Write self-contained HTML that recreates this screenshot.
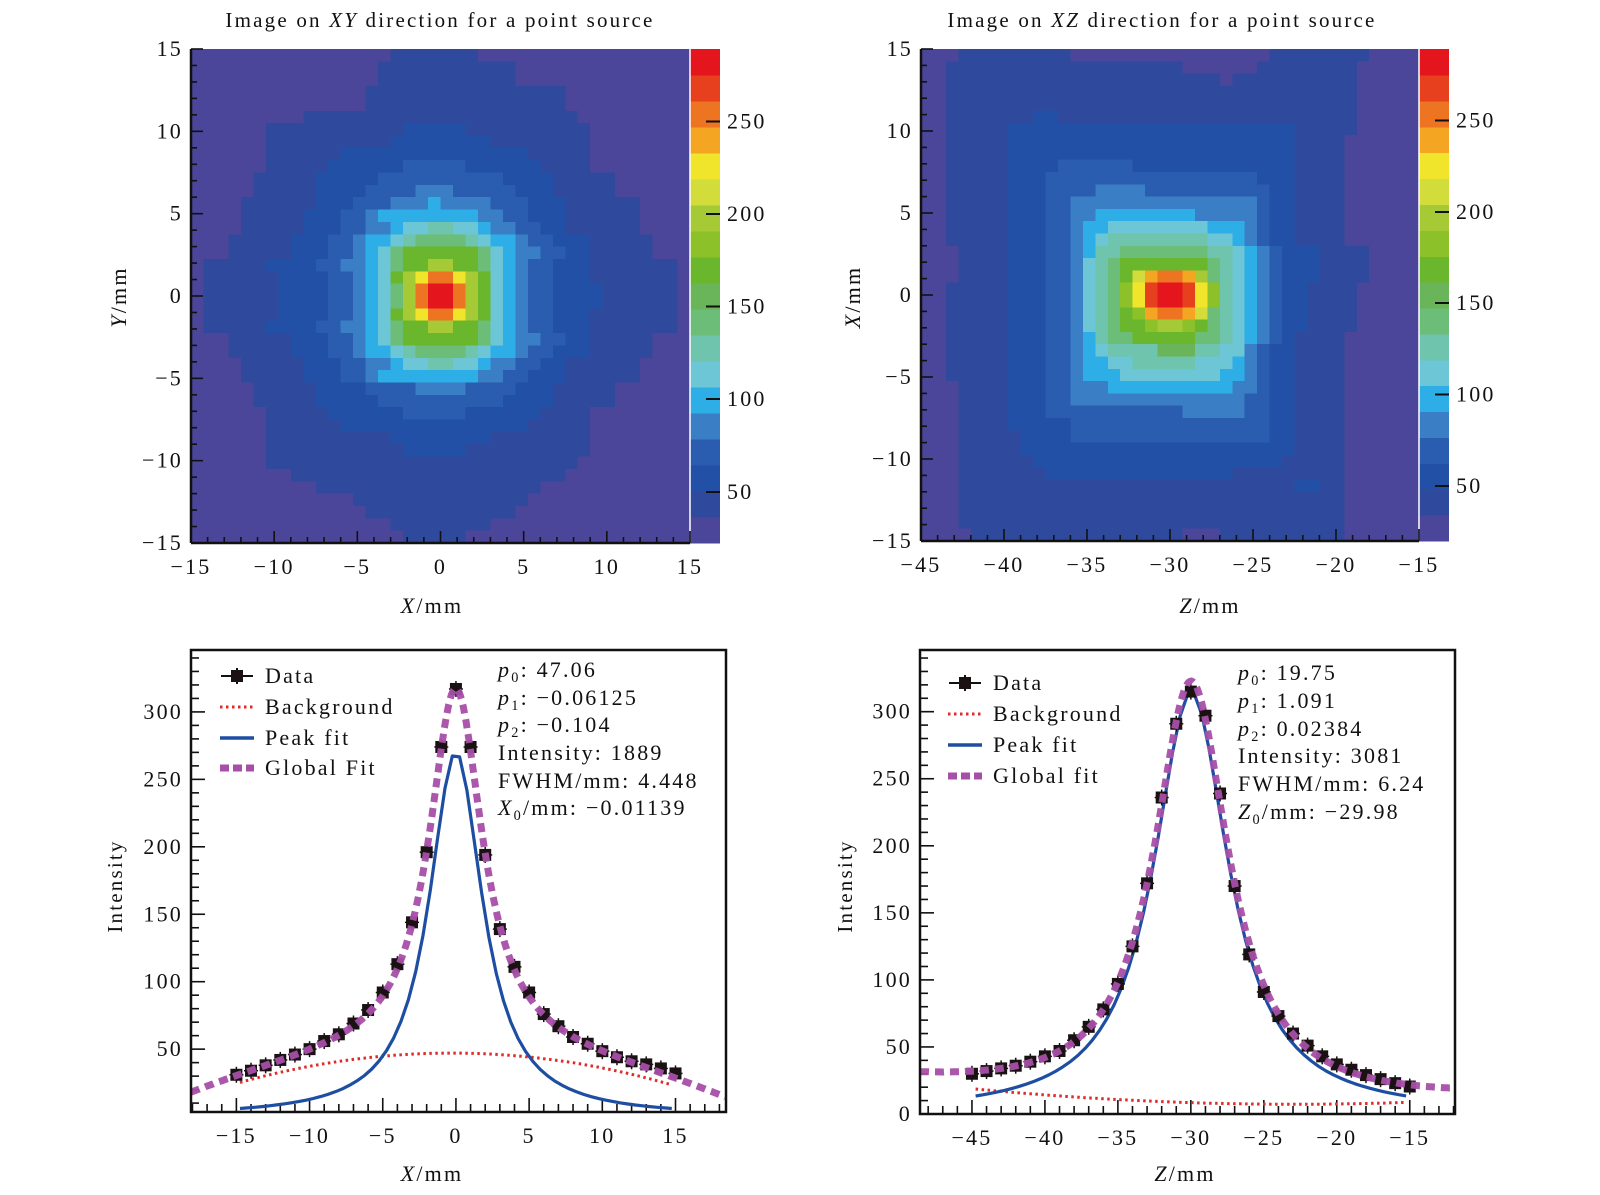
<!DOCTYPE html>
<html><head><meta charset="utf-8"><title>Point source images</title>
<style>
html,body{margin:0;padding:0;background:#fff;}
svg{display:block;font-family:"Liberation Serif","DejaVu Serif",serif;}
svg text{letter-spacing:2.2px;}
</style></head>
<body>
<svg id="fig" width="1600" height="1195" viewBox="0 0 1600 1195" xmlns="http://www.w3.org/2000/svg">
<defs>
<clipPath id="clipL"><rect x="191" y="650" width="535" height="462"/></clipPath>
<clipPath id="clipR"><rect x="920" y="650" width="535" height="464"/></clipPath>
</defs>
<g id="root"></g>
</svg>
<script>
// ---------- DATA ----------
const xyRows = [
"1:16-22","1:15-25","1:15-25","1:14-29","1:14-29","1:9-30",
"1:6-31 2:17-21","1:6-31 2:16-23","1:6-31 2:12-26","1:6-31 2:11-27 3:17-21",
"1:5-33 2:10-28 3:15-24","1:5-33 2:10-28 3:14-25 4:18-20",
"1:4-35 2:10-29 3:13-26 4:16-23 5:19-19","1:4-35 2:9-29 3:12-26 4:14-24 5:15-22",
"1:4-35 2:9-29 3:12-27 4:14-25 5:16-23 6:17-22 7:19-20",
"1:3-36 2:8-31 3:11-28 4:13-26 5:14-25 6:16-23 7:17-22 8:18-21",
"1:3-36 2:8-31 3:11-29 4:13-27 5:14-25 6:15-24 8:16-23 a:17-22",
"1:1-38 2:6-31 3:10-28 4:12-26 5:14-25 6:15-24 8:16-23 a:17-22 c:19-20",
"1:1-38 2:7-31 3:11-28 4:13-26 5:14-25 6:15-24 a:16-23 c:17-17 e:18-18 g:19-20 e:21-21 c:22-22",
"1:1-38 2:7-32 3:11-28 4:13-26 5:14-25 6:15-24 8:16-16 c:17-17 g:18-18 i:19-20 g:21-21 c:22-22 a:23-23",
"1:1-38 2:7-32 3:11-28 4:13-26 5:14-25 6:15-24 8:16-16 c:17-17 g:18-18 i:19-20 g:21-21 c:22-22 a:23-23",
"1:1-38 2:7-31 3:11-28 4:13-26 5:14-25 6:15-24 a:16-23 c:17-17 e:18-18 g:19-20 e:21-21 c:22-22",
"1:1-38 2:6-31 3:10-28 4:12-26 5:14-25 6:15-24 8:16-23 a:17-22 c:19-20",
"1:3-36 2:8-31 3:11-29 4:13-27 5:14-25 6:15-24 8:16-23 a:17-22",
"1:3-36 2:8-31 3:11-28 4:13-26 5:14-25 6:16-23 7:17-22 8:18-21",
"1:4-35 2:9-29 3:12-27 4:14-25 5:16-23 6:17-22 7:19-20",
"1:4-35 2:9-29 3:12-26 4:14-24 5:15-22",
"1:5-33 2:10-28 3:14-25 4:18-21",
"1:5-33 2:10-28 3:15-24",
"1:6-31 2:11-27 3:17-21","1:6-31 2:12-26","1:6-31 2:16-23","1:6-31 2:17-21",
"1:6-30","1:8-29","1:10-27","1:13-26","1:14-25","1:16-23","1:17-21"
];
const xzRows = [
"1:3-11 1:28-35","1:2-20 1:27-34","1:2-23 1:25-34","1:2-34","1:2-34","1:2-34 2:9-10",
"1:2-34 2:7-29","1:2-33 2:7-29","1:2-33 2:7-29","1:2-33 2:7-29 3:11-16",
"1:2-33 2:7-29 3:10-26","1:2-33 2:7-29 3:10-27 4:14-17",
"1:2-33 2:7-29 3:10-27 4:12-26","1:2-33 2:7-29 3:10-27 4:12-26 5:14-21",
"1:2-33 2:7-29 3:10-27 4:12-26 5:13-25 6:15-22",
"1:2-33 2:7-29 3:10-27 4:12-26 5:13-25 6:14-24 7:15-22",
"1:3-35 2:7-31 3:10-28 4:12-27 5:13-26 6:14-25 7:14-24 8:16-22",
"1:3-35 2:7-31 3:10-28 4:12-27 5:13-26 6:13-25 7:14-24 8:15-23 a:16-22",
"1:3-35 2:7-31 3:10-28 4:12-27 5:13-26 6:13-25 7:14-24 8:15-23 a:16-22 d:17-17 f:18-18 g:19-20 f:21-21 c:22-22",
"1:2-34 2:7-30 3:10-28 4:12-27 5:13-26 6:13-25 7:14-24 8:15-23 a:16-23 b:16-16 e:17-17 h:18-18 i:19-20 h:21-21 e:22-22 b:23-23",
"1:2-34 2:7-30 3:10-28 4:12-27 5:13-26 6:13-25 7:14-24 8:15-23 a:16-23 b:16-16 e:17-17 h:18-18 i:19-20 h:21-21 e:22-22 b:23-23",
"1:2-34 2:7-30 3:10-28 4:12-27 5:13-26 6:13-25 7:14-24 8:15-23 a:16-22 b:17-17 f:18-18 g:19-20 f:21-21 d:22-22",
"1:2-34 2:7-30 3:10-28 4:12-27 5:13-26 6:13-25 7:14-24 8:15-23 a:16-22 b:18-18 c:19-20 b:21-21",
"1:2-33 2:7-29 3:10-28 4:12-27 5:13-26 6:14-25 7:14-24 8:15-23 a:17-21",
"1:2-33 2:7-29 3:10-27 4:12-26 5:13-25 6:14-25 7:15-23 9:19-21",
"1:2-33 2:7-29 3:10-27 4:12-26 5:13-25 6:15-24 7:17-21",
"1:2-33 2:7-29 3:10-27 4:12-26 5:13-25 6:16-23",
"1:3-33 2:7-29 3:10-27 4:12-26 5:15-24",
"1:3-33 2:7-29 3:10-27 4:12-25",
"1:3-33 2:7-29 3:10-27 4:21-25",
"1:3-33 2:7-29 3:12-27","1:3-33 2:8-29 3:12-27","1:3-33 2:8-29","1:3-33 2:9-28",
"1:3-33 2:10-24","1:3-33 2:30-31","1:3-33","1:3-33","1:3-33","1:4-20 1:24-33"
];
const xyPosX = [-15,-14,-13,-12,-11,-10,-9,-8,-7,-6,-5,-4,-3,-2,-1,0,1,2,3,4,5,6,7,8,9,10,11,12,13,14,15];
const xyCounts = [31,34,38,42,46,50,56,61,69,79,92,113,144,196,274,317,274,194,139,111,92,76,67,59,54,48.5,44,41,38.7,35.7,32];
const xzPosZ = [-45,-44,-43,-42,-41,-40,-39,-38,-37,-36,-35,-34,-33,-32,-31,-30,-29,-28,-27,-26,-25,-24,-23,-22,-21,-20,-19,-18,-17,-16,-15];
const xzCounts = [30,32,34,36,39,43,47,55,65,78,97,125,172,236,291,315,297,239,170,119,91,73,60,51,43,37,33,29,26,23,20.5];
const xyFitBg = [47.06,-0.06125,-0.104];
const xyFitPeak = [1889,4.448,-0.01139];
const xzFitBg = [19.75,1.091,0.02384];
const xzFitPeak = [3081,6.24,-29.98];
const hmTicksXY = [-15,-10,-5,0,5,10,15];
const hmTicksXZ = [-45,-40,-35,-30,-25,-20,-15];
const cbTicks = [50,100,150,200,250];
const intTicksL = [50,100,150,200,250,300];
const intTicksR = [0,50,100,150,200,250,300];

// ---------- STYLE ----------
const PAL = {"0":"#4b4699","1":"#2f4a9c","2":"#2250a6","3":"#2a5cb0","4":"#3a7ec5","5":"#2eaee6","6":"#6cc6d6","7":"#6ec4ac","8":"#6bbd78","9":"#6ab45a","a":"#6ab62c","b":"#8cc12a","c":"#a6ca35","d":"#d2dc3a","e":"#f1e52c","f":"#f4a521","g":"#ed7420","h":"#e6401e","i":"#e5151e"};
const LEVELS = "0123456789abcdefghi";
const NS="http://www.w3.org/2000/svg";
const root=document.getElementById('root');
const FS=22;
function el(tag,attrs,parent){const e=document.createElementNS(NS,tag);for(const k in attrs)e.setAttribute(k,attrs[k]);(parent||root).appendChild(e);return e;}
function fmt(v){return v<0?"\u2212"+Math.abs(v):String(v);}
function txt(x,y,s,size,anchor,parent){const t=el('text',{x:x,y:y,'font-size':size,'text-anchor':anchor||'middle',fill:'#111'},parent);t.textContent=s;return t;}

// ---------- HEATMAP ----------
function drawHeat(rows,name,x0,y0,w,h,cbx,cbTop,cbBot,cbMin,cbMax){
  const g=el('g',{'shape-rendering':'crispEdges'});
  
  
  const cw=w/40,ch=h/40;
  rows.forEach((row,r)=>{
    const lv=new Array(40).fill('0');
    row.split(' ').forEach(p=>{const [L,rg]=p.split(':');const [a,b]=rg.split('-').map(Number);for(let c=a;c<=b;c++)lv[c]=L;});
    let c=0;
    while(c<40){let e=c;while(e+1<40&&lv[e+1]===lv[c])e++;
      const rc=el('rect',{x:(x0+c*cw).toFixed(2),y:(y0+r*ch).toFixed(2),width:((e-c+1)*cw+0.6).toFixed(2),height:(ch+0.6).toFixed(2),fill:PAL[lv[c]]},g);
      
      
      c=e+1;}
  });
  const cb=el('g',{'shape-rendering':'crispEdges'});
  
  
  const n=LEVELS.length,bh=(cbBot-cbTop)/n;
  for(let i=0;i<n;i++){const b=el('rect',{x:cbx,y:(cbBot-(i+1)*bh).toFixed(2),width:30,height:(bh+0.6).toFixed(2),fill:PAL[LEVELS[i]]},cb);
    
    }
  const cy=v=>cbBot-(v-cbMin)/(cbMax-cbMin)*(cbBot-cbTop);
  cbTicks.forEach(v=>{const y=cy(v);el('line',{x1:cbx+16,x2:cbx+30,y1:y,y2:y,stroke:'#111','stroke-width':2},cb);
    const t=txt(cbx+37,y+7,String(v),FS,'start',cb);
    
    });
  el('line',{x1:x0+w,x2:x0+w,y1:y0,y2:y0+h,stroke:'#fff','stroke-width':1.5});
}
function heatAxes(x0,y0,w,h,xmin,xmax,xt,ymin,ymax,yt,name){
  const g=el('g',{});
  
  
  const sx=v=>x0+(v-xmin)/(xmax-xmin)*w, sy=v=>y0+h-(v-ymin)/(ymax-ymin)*h;
  el('line',{x1:x0,x2:x0,y1:y0,y2:y0+h,stroke:'#111','stroke-width':2.5},g);
  el('line',{x1:x0,x2:x0+w,y1:y0+h,y2:y0+h,stroke:'#111','stroke-width':2.5},g);
  for(let v=xmin;v<=xmax;v++){const M=(v%5===0);el('line',{x1:sx(v),x2:sx(v),y1:y0+h,y2:y0+h-(M?12:6),stroke:'#111','stroke-width':1.6},g);}
  for(let v=ymin;v<=ymax;v++){const M=(v%5===0);el('line',{x1:x0,x2:x0+(M?12:6),y1:sy(v),y2:sy(v),stroke:'#111','stroke-width':1.6},g);}
  xt.forEach(v=>{const t=txt(sx(v),y0+h+31,fmt(v),FS,'middle',g);});
  yt.forEach(v=>{const t=txt(x0-8,sy(v)+7,fmt(v),FS,'end',g);});
}

drawHeat(xyRows,'xy-heatmap',191,49,499,494,690,49,543,22.4,289);
heatAxes(191,49,499,494,-15,15,hmTicksXY,-15,15,hmTicksXY,'xy');
drawHeat(xzRows,'xz-heatmap',921,49,498,492,1419,49,541,20,289);
heatAxes(921,49,498,492,-45,-15,hmTicksXZ,-15,15,hmTicksXY,'xz');

// ---------- TITLES / LABELS ----------
function richText(x,y,parts,size,anchor,name,rot){
  const t=el('text',{x:x,y:y,'font-size':size,'text-anchor':anchor,fill:'#111'});
  if(rot)t.setAttribute('transform','rotate(-90 '+x+' '+y+')');
  parts.forEach(p=>{const s=el('tspan',{},t);if(p.i)s.setAttribute('font-style','italic');if(p.sub){s.setAttribute('font-size',size*0.65);s.setAttribute('dy',5);}if(p.up){s.setAttribute('dy',-5);}s.textContent=p.t;});
  
  
  return t;
}
richText(440,27,[{t:'Image on '},{t:'XY',i:1},{t:' direction for a point source'}],21,'middle','xy-title');
richText(1162,27,[{t:'Image on '},{t:'XZ',i:1},{t:' direction for a point source'}],21,'middle','xz-title');
richText(432,613,[{t:'X',i:1},{t:'/mm'}],22,'middle','xy-x-axis-title');
richText(1210,613,[{t:'Z',i:1},{t:'/mm'}],22,'middle','xz-x-axis-title');
richText(126,297,[{t:'Y',i:1},{t:'/mm'}],22,'middle','xy-y-axis-title',1);
richText(860,297,[{t:'X',i:1},{t:'/mm'}],22,'middle','xz-y-axis-title',1);
richText(432,1181,[{t:'X',i:1},{t:'/mm'}],22,'middle','profile-x-axis-title');
richText(1185,1181,[{t:'Z',i:1},{t:'/mm'}],22,'middle','profile-z-axis-title');
richText(122,886,[{t:'Intensity'}],21,'middle','profile-x-y-axis-title',1);
richText(852,886,[{t:'Intensity'}],21,'middle','profile-z-y-axis-title',1);

// ---------- PROFILE PLOTS ----------
function profile(o){
  const {L,R,T,B,xmin,xmax,ymin,ymax,xs,ys,bg,pk,xt,yt,clip,name}=o;
  const sx=v=>L+(v-xmin)/(xmax-xmin)*(R-L), sy=v=>B-(v-ymin)/(ymax-ymin)*(B-T);
  const g=el('g',{});
  
  
  for(let v=Math.ceil(xmin);v<=xmax;v++){const M=(v%5===0);el('line',{x1:sx(v),x2:sx(v),y1:B,y2:B-(M?14:8),stroke:'#111','stroke-width':1.6},g);}
  for(let v=Math.ceil(ymin/10)*10;v<=ymax;v+=10){const M=(v%50===0);el('line',{x1:L,x2:L+(M?14:8),y1:sy(v),y2:sy(v),stroke:'#111','stroke-width':1.6},g);}
  xt.forEach(v=>{const t=txt(sx(v),B+31,fmt(v),FS,'middle',g);});
  yt.forEach(v=>{const t=txt(L-8,sy(v)+7,String(v),FS,'end',g);});
  const bgf=x=>bg[0]+bg[1]*x+bg[2]*x*x;
  const H=2*pk[0]/(Math.PI*pk[1]);
  const pkf=x=>H/(1+Math.pow((x-pk[2])/(pk[1]/2),2));
  const cg=el('g',{'clip-path':'url(#'+clip+')'},g);
  function path(f,a,b,step){let d='';for(let x=a;x<=b+1e-9;x+=step){d+=(d?'L':'M')+sx(x).toFixed(1)+','+sy(f(x)).toFixed(1);}return d;}
  const a=xs[0]+0.25,b=xs[xs.length-1]-0.25;
  const bgp=el('path',{d:path(bgf,a,b,0.25),fill:'none',stroke:'#e02a2a','stroke-width':3,'stroke-dasharray':'2.5 3.5'},cg);
  
  
  const pkp=el('path',{d:path(pkf,a,b,0.5),fill:'none',stroke:'#1e4ea2','stroke-width':3.2,'stroke-linejoin':'round'},cg);
  
  
  xs.forEach((x,i)=>{const px=sx(x),py=sy(ys[i]);
    const m=el('g',{},cg);
    
    
    el('line',{x1:px,x2:px,y1:py-8,y2:py+8,stroke:'#111','stroke-width':1.5},m);
    el('line',{x1:px-7,x2:px+7,y1:py,y2:py,stroke:'#111','stroke-width':1.5},m);
    el('rect',{x:px-6,y:py-6,width:12,height:12,fill:'#1a1212'},m);});
  const glp=el('path',{d:path(x=>bgf(x)+pkf(x),xmin,xmax,0.1),fill:'none',stroke:'#a64fa8','stroke-width':7,'stroke-dasharray':'9 6','stroke-opacity':0.95},cg);
  
  
  el('rect',{x:L,y:T,width:R-L,height:B-T,fill:'none',stroke:'#111','stroke-width':2.5},g);
}
profile({L:191,R:726,T:650,B:1112,xmin:-18.1,xmax:18.45,ymin:3.4,ymax:345.9,xs:xyPosX,ys:xyCounts,bg:xyFitBg,pk:xyFitPeak,xt:[-15,-10,-5,0,5,10,15],yt:intTicksL,clip:'clipL',name:'x-profile-plot'});
profile({L:920,R:1455,T:650,B:1114,xmin:-48.56,xmax:-11.9,ymin:0,ymax:346,xs:xzPosZ,ys:xzCounts,bg:xzFitBg,pk:xzFitPeak,xt:[-45,-40,-35,-30,-25,-20,-15],yt:intTicksR,clip:'clipR',name:'z-profile-plot'});

// ---------- LEGENDS ----------
function legend(x,ys,labels,name){
  const g=el('g',{});
  
  
  const [y1,y2,y3,y4]=ys;
  el('line',{x1:x-16,x2:x+16,y1:y1,y2:y1,stroke:'#111','stroke-width':2},g);
  el('line',{x1:x,x2:x,y1:y1-8,y2:y1+8,stroke:'#111','stroke-width':2},g);
  el('rect',{x:x-6,y:y1-6,width:12,height:12,fill:'#1a1212'},g);
  el('line',{x1:x-17,x2:x+17,y1:y2,y2:y2,stroke:'#e02a2a','stroke-width':3,'stroke-dasharray':'2.5 3.5'},g);
  el('line',{x1:x-17,x2:x+17,y1:y3,y2:y3,stroke:'#1e4ea2','stroke-width':3.5},g);
  el('line',{x1:x-17,x2:x+17,y1:y4,y2:y4,stroke:'#a64fa8','stroke-width':7,'stroke-dasharray':'9 4'},g);
  labels.forEach((s,i)=>{const t=txt(x+28,ys[i]+7,s,FS,'start',g);});
}
legend(237,[676,707,738,768],['Data','Background','Peak fit','Global Fit'],'x-profile-legend');
legend(965,[683,714,745,776],['Data','Background','Peak fit','Global fit'],'z-profile-legend');

function stats(x,ys,vals,c0,name){
  const lines=[
    [{t:'p',i:1},{t:'0',sub:1},{t:': '+vals[0],up:1}],
    [{t:'p',i:1},{t:'1',sub:1},{t:': '+vals[1],up:1}],
    [{t:'p',i:1},{t:'2',sub:1},{t:': '+vals[2],up:1}],
    [{t:'Intensity: '+vals[3]}],
    [{t:'FWHM/mm: '+vals[4]}],
    [{t:c0,i:1},{t:'0',sub:1},{t:'/mm: '+vals[5],up:1}]];
  lines.forEach((p,i)=>richText(x,ys[i],p,22,'start',name+'-line'));
}
stats(498,[677,705,732,760,788,815],['47.06','\u22120.06125','\u22120.104','1889','4.448','\u22120.01139'],'X','x-fit-stats');
stats(1238,[680,708,736,763,791,819],['19.75','1.091','0.02384','3081','6.24','\u221229.98'],'Z','z-fit-stats');
</script>
</body></html>
